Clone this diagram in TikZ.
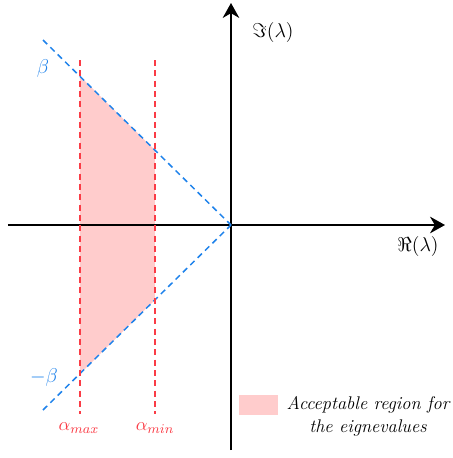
\documentclass[tikz,border=0pt]{standalone}
\usetikzlibrary{arrows.meta}
\definecolor{bl}{RGB}{30,130,235}
\definecolor{rd}{RGB}{250,60,70}
\definecolor{pk}{RGB}{255,204,204}
\begin{document}
\begin{tikzpicture}[x=0.6pt,y=-0.6pt,
  axis/.style={line width=0.9pt,-{Stealth[length=9pt,width=10pt]}},
  bdash/.style={draw=bl,line width=0.9pt,dash pattern=on 3.6pt off 2.6pt},
  rdash/.style={draw=rd,line width=0.9pt,dash pattern=on 3.6pt off 2.6pt},
  lab/.style={inner sep=0pt},
  big/.style={font=\fontsize{12.5}{15}\selectfont},
  mid/.style={font=\fontsize{10.8}{13}\selectfont}]
\useasboundingbox (0,0) rectangle (453,458);
\coordinate (O) at (231,225);
\coordinate (TL) at (43,40);
\coordinate (BL) at (43,410);
\coordinate (A1t) at (80,60);
\coordinate (A1b) at (80,414);
\coordinate (A2t) at (155,60);
\coordinate (A2b) at (155,414);
\fill[pk] (80,76.1) -- (155,150.2) -- (155,299.8) -- (80,373.9) -- cycle;
\draw[axis] (8,225) -- (445,225);
\draw[axis] (231,450) -- (231,3);
\draw[bdash] (TL) -- (O);
\draw[bdash] (BL) -- (O);
\draw[rdash] (A1t) -- (A1b);
\draw[rdash] (A2t) -- (A2b);
\node[lab,big,text=bl] (beta) at (43,68) {$\beta$};
\node[lab,big,text=bl] (mbeta) at (44,377) {$-\beta$};
\node[lab,mid,text=rd] (amax) at (79,428) {$\alpha_{max}$};
\node[lab,mid,text=rd] (amin) at (155,428) {$\alpha_{min}$};
\node[lab,big] (im) at (273,32) {$\Im(\lambda)$};
\node[lab,big] (re) at (418,246) {$\Re(\lambda)$};
\fill[pk] (239,395) rectangle (278,415) coordinate (legbox);
\node[lab,align=center,font=\fontsize{11}{14}\selectfont\itshape] (leg) at (368,416) {Acceptable region for\\the eignevalues};
\end{tikzpicture}
\end{document}
